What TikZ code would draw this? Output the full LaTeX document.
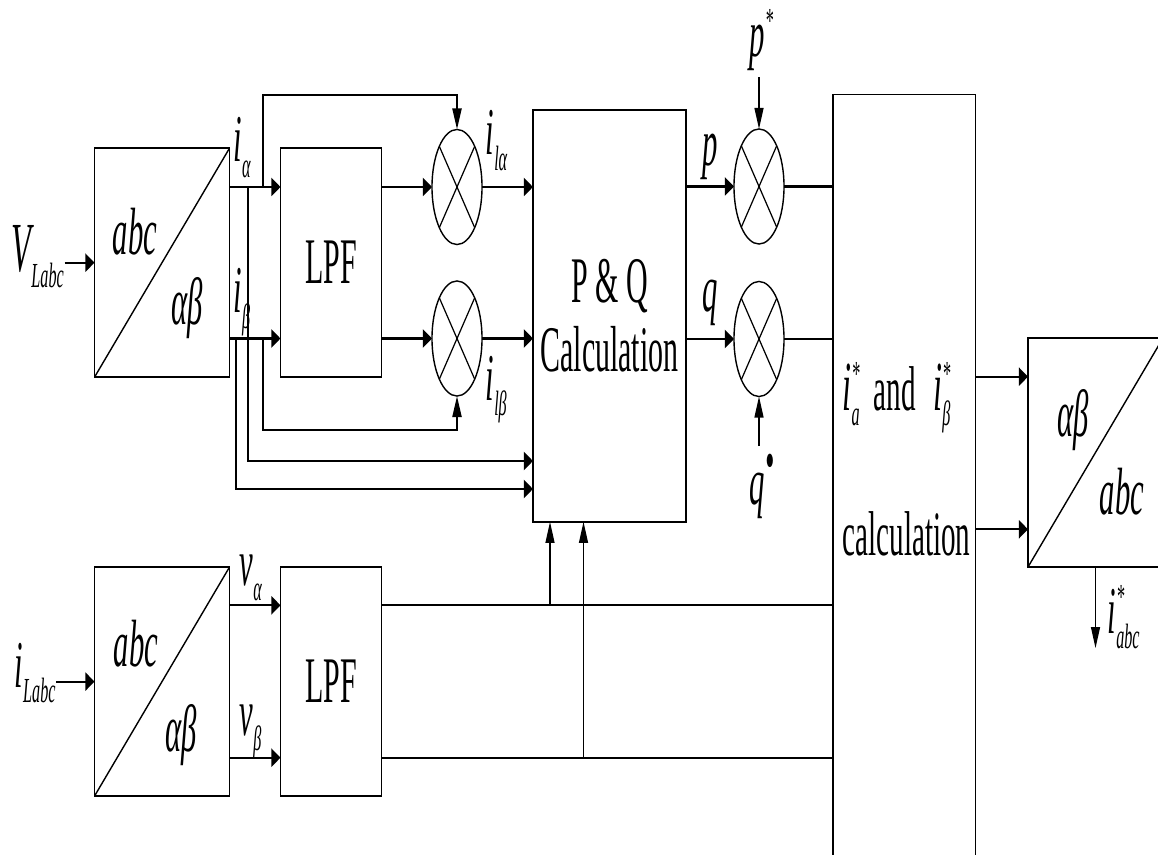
\documentclass[tikz,border=0pt]{standalone}
\usepackage{fontspec}
\setmainfont{Liberation Serif}[FakeStretch=0.46]
\usetikzlibrary{arrows.meta, positioning, shapes.geometric}
\newcommand{\sbs}[1]{\raisebox{-4.5pt}{\fontsize{10}{10}\selectfont #1}}
\newcommand{\sps}[1]{\raisebox{7pt}{\fontsize{10}{10}\selectfont #1}}

\begin{document}
\begin{tikzpicture}[x=0.01cm, y=-0.01cm,
        blk/.style={draw, line width=0.45pt, inner sep=0, outer sep=0, font=\fontsize{18.5}{19.5}\selectfont},
        conv/.style={blk, minimum width=1.35cm, minimum height=2.29cm,
          path picture={\draw[line width=0.4pt] (path picture bounding box.south west) -- (path picture bounding box.north east);}},
        mult/.style={draw, ellipse, line width=0.4pt, minimum width=0.5cm, minimum height=1.15cm, inner sep=0, outer sep=0,
          path picture={\draw[line width=0.35pt] (path picture bounding box.south west) -- (path picture bounding box.north east)
            (path picture bounding box.north west) -- (path picture bounding box.south east);}},
        sig/.style={line width=0.6pt},
        harr/.style={sig, -{Triangle[length=0.9mm, width=1.8mm]}},
        varr/.style={line width=0.35pt, -{Triangle[length=2.1mm, width=0.9mm]}},
        lbl/.style={inner sep=0, font=\fontsize{19}{21}\selectfont\itshape},
      ]
        \useasboundingbox (0,0) rectangle (1158,855);
        \clip (0,0) rectangle (1158,855);

        \node[conv] (conv1) at (162,262.7) {};
        \node[lbl] (abc1) at (135,232) {abc};
        \node[lbl] (ab1) at (187,308) {αβ};
        \node[blk, minimum width=1.01cm, minimum height=2.29cm] (lpf1) at (331,262.7) {LPF};
        \node[mult] (m1) at (457,187) {};
        \node[mult] (m2) at (457,338.5) {};
        \node[blk, minimum width=1.53cm, minimum height=4.117cm, align=center] (pq) at (609.5,315.9) {P \& Q\\Calculation};
        \node[mult] (mp) at (759,186.5) {};
        \node[mult] (mq) at (759,339) {};
        \node[blk, minimum width=1.425cm, minimum height=8.7cm] (calc) at (904.25,529.7) {};
        \node[conv] (conv3) at (1095.5,452.5) {};
        \node[lbl] (ab3) at (1073,420) {αβ};
        \node[lbl] (abc3) at (1122,492) {abc};
        \node[conv] (conv2) at (162,681.6) {};
        \node[lbl] (abc2) at (136,644) {abc};
        \node[lbl] (ab2) at (181,735) {αβ};
        \node[blk, minimum width=1.01cm, minimum height=2.29cm] (lpf2) at (331,681.6) {LPF};

        \node[lbl, anchor=base west, font=\fontsize{20}{22}\selectfont\itshape] (vlabc) at (11,272) {V\sbs{Labc}};
        \node[lbl, anchor=base west] (ilabc) at (14,687) {i\sbs{Labc}};
        \node[lbl, anchor=base west] (ia) at (233,162) {i\sbs{α}};
        \node[lbl, anchor=base west] (ib) at (233,313) {i\sbs{β}};
        \node[lbl, anchor=base west] (ila) at (485,155) {i\sbs{lα}};
        \node[lbl, anchor=base west] (ilb) at (485,400) {i\sbs{lβ}};
        \node[lbl, anchor=base west] (va) at (239,585) {v\sbs{α}};
        \node[lbl, anchor=base west] (vb) at (239,735) {v\sbs{β}};
        \node[lbl, anchor=base west] (plbl) at (702,166) {p};
        \node[lbl, anchor=base west] (qlbl) at (702,312) {q};
        \node[lbl, anchor=base west] (pstar) at (749,57) {p\sps{*}};
        \node[lbl, anchor=base west] (qdot) at (749,504) {q\raisebox{7pt}{\fontsize{16}{16}\selectfont •}};
        \node[lbl, anchor=base west, font=\fontsize{18}{20}\selectfont] (iref) at (842,410)
          {{\fontsize{20}{22}\selectfont\itshape i\rlap{\sps{*}}\sbs{a}}\hspace{4pt}and\hspace{5pt}{\fontsize{20}{22}\selectfont\itshape i\rlap{\sps{*}}\sbs{β}}};
        \node[lbl, anchor=base west, font=\fontsize{18}{20}\selectfont] (calclbl) at (842,555) {calculation};
        \node[lbl, anchor=base west] (iabc) at (1107,633) {i\rlap{\sps{*}}\sbs{abc}};

        \coordinate (ta) at (263,187);
        \coordinate (tb) at (263,338.5);
        \coordinate (tc) at (248,187);
        \coordinate (td) at (236,338.5);
        \coordinate (pref) at (759,77.5);
        \coordinate (qref) at (759,446);

        \draw[harr] (vlabc.east |- conv1.west) -- (conv1.west);
        \draw[harr] (ilabc.east |- conv2.west) -- (conv2.west);
        \draw[harr] (conv1.east |- ta) -- (lpf1.west |- ta);
        \draw[harr] (conv1.east |- tb) -- (lpf1.west |- tb);
        \draw[harr] (lpf1.east |- m1) -- (m1.west);
        \draw[harr] (lpf1.east |- m2) -- (m2.west);
        \draw[harr] (m1.east) -- (pq.west |- m1);
        \draw[harr] (m2.east) -- (pq.west |- m2);
        \draw[sig, -{Triangle[length=2.1mm, width=0.9mm]}] (ta) -- (ta |- 0,95) -| (m1.north);
        \draw[sig, -{Triangle[length=2.1mm, width=0.9mm]}] (tb) -- (tb |- 0,430) -| (m2.south);
        \draw[harr] (tc) |- (pq.west |- 0,461);
        \draw[harr] (td) |- (pq.west |- 0,489);
        \draw[harr] (pq.east |- mp) -- (mp.west);
        \draw[harr] (pq.east |- mq) -- (mq.west);
        \draw[sig] (mp.east) -- (calc.west |- mp);
        \draw[sig] (mq.east) -- (calc.west |- mq);
        \draw[varr] (pref) -- (mp.north);
        \draw[varr] (qref) -- (mq.south);
        \draw[harr] (conv2.east |- 0,605.3) -- (lpf2.west |- 0,605.3);
        \draw[harr] (conv2.east |- 0,757.7) -- (lpf2.west |- 0,757.7);
        \draw[sig] (lpf2.east |- 0,605.3) -- (calc.west |- 0,605.3);
        \draw[sig] (lpf2.east |- 0,757.7) -- (calc.west |- 0,757.7);
        \draw[varr] (550,605.3) -- (550,0 |- pq.south);
        \draw[varr] (583.5,757.7) -- (583.5,0 |- pq.south);
        \draw[harr] (calc.east |- 0,376.7) -- (conv3.west |- 0,376.7);
        \draw[harr] (calc.east |- 0,529.3) -- (conv3.west |- 0,529.3);
        \draw[varr] (conv3.south) -- ++(0,81);
      \end{tikzpicture}
\end{document}
